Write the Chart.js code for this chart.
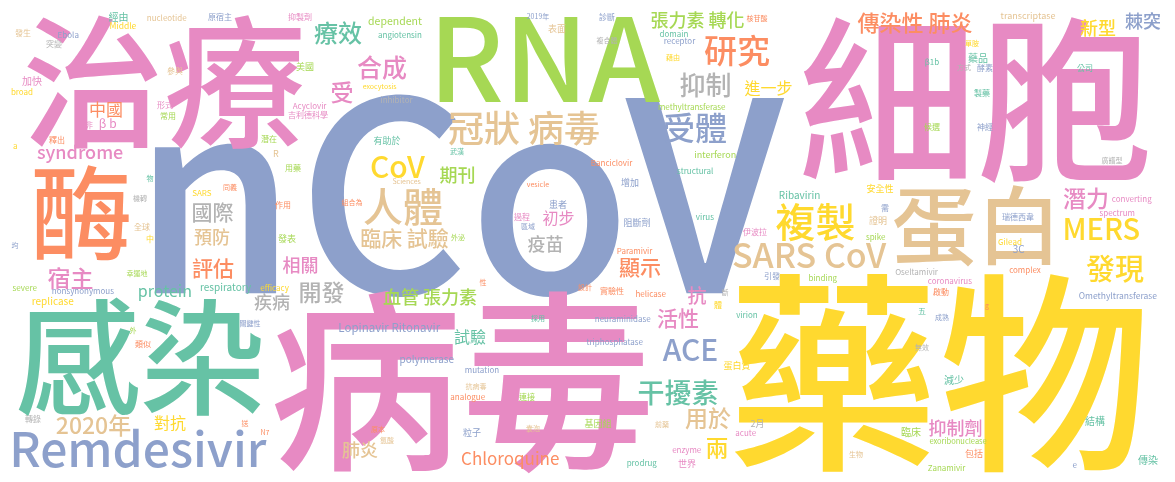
<!DOCTYPE html>
<html>
<head>
<meta charset="utf-8">
<script src="https://cdn.jsdelivr.net/npm/chart.js@4"></script>
<style>
html,body{margin:0;padding:0;background:#fff;}
#wrap{width:1175px;height:482px;position:relative;}
</style>
</head>
<body>
<div id="wrap"><canvas id="c"></canvas></div>
<script>
// Set2 colour groups
const PALETTE = ['#66c2a5','#fc8d62','#8da0cb','#e78ac3','#a6d854','#ffd92f','#e5c494','#b3b3b3'];
// 0 teal,1 orange,2 blue,3 pink,4 green,5 yellow,6 tan,7 gray

const words = [
'nCoV','藥物','病毒','細胞','治療','感染','RNA','酶','蛋白','Remdesivir',
'人體','複製','冠狀 病毒','研究','受體','SARS CoV','MERS','發現','干擾素','ACE',
'抑制','CoV','療效','合成','潛力','受','開發','宿主','2020年','用於',
'兩','傳染性 肺炎','國際','評估','顯示','活性','臨床 試驗','抗','張力素 轉化','新型',
'棘突','預防','相關','疾病','期刊','疫苗','血管 張力素','肺炎','Chloroquine','抑制劑',
'syndrome','protein','中國','進一步','初步','對抗','試驗','β b','Lopinavir Ritonavir','dependent',
'經由','nucleotide','原宿主','抑製劑','Middle','發生','Ebola','突變','參與','加快',
'broad','形式','常用','非','釋出','a','潛在','R','Acyclovir','吉利德科學',
'美國','angiotensin','2019年','表面','exocytosis','inhibitor','有助於','武漢','診斷','核苷酸',
'複合體','domain','receptor','藉由','methyltransferase','interferon','Banciclovir','transcriptase','單胺','藥品',
'β1b','方式','酵素','公司','製藥','候選','神經','廣譜型','物','用藥',
'同義','SARS','機轉','作用','全球','中','發表','均','幸運地','severe',
'nonsynonymous','respiratory','efficacy','replicase','Sciences','vesicle','組合為','患者','過程','區域',
'外泌','性','設計','採用','structural','增加','Ribavirin','安全性','virus','阻斷劑',
'證明','需','伊波拉','spike','Paramivir','引發','binding','實驗性','helicase','斷',
'體','virion','neuraminidase','converting','spectrum','瑞德西韋','Gilead','3C','Oseltamivir','complex',
'coronavirus','Omethyltransferase','啟動','g','五','成熟','外','類似','關鍵性','轉錄',
'送','N7','polymerase','mutation','抗病毒','analogue','連接','原本','氯酸','粒子',
'囊泡','基因組','triphosphatase','蛋白質','前藥','2月','acute','enzyme','生物','prodrug',
'世界','無效','減少','結構','臨床','exoribonuclease','包括','Zanamivir','e','傳染'
];

// word weights (drawn as font size)
const weights = [
265,212,193,178,142,125,115,102,85,48,
40,40,36,33,32,34,29,29,27,30,
26,30,24,25,23,23,23,23,23,23,
23,22,21,21,21,21,21,19,18,18,
18,18,18,18,18,18,18,18,17,18,
18,16,17,16,16,16,16,12,11.5,10.5,
10,8,8,8,8.5,8,8,8,8,10,
8,8,8,8,8,8,8,9,8,8,
9,8,7,9,7,8,9,7,8,7,
7,8,8,7,8,9,8,9,7,10,
8,7,8,8,8,8,8,7,7,8,
7,8,7,8,8,8,9,7,7,8,
8,10,8,10,7,7,7,9,8,7,
7,7,7,7,8,9,10,9,8,9,
9,8,8,8,8,8,8,8,8,7,
8,8,8,8,8,8,8,10,8,8,
8,8.5,8,7,8,7,7,8,7,8,
7,7,10,8,7,8,8,7,7,9,
7,9,8,9,7,9,8,8,7,8,
9,7,10,10,10,7.5,9,8,8,10
];

// layout positions of each word (word-cloud coordinates)
const layoutX = [
470,938,461,975,165,140,550,82,972,140,
403,815,524,737,695,810,1102,1115,678,690,
705,398,338,382,1085,342,322,70,93,708,
717,915,213,213,640,678,405,697,698,1098,
1143,212,300,272,457,545,430,360,510,955,
80,165,106,768,558,170,470,108,390,395,
118,167,220,300,123,23,68,54,175,32,
22,165,168,89,57,15,269,276,310,308,
305,400,538,557,380,397,387,457,607,757,
607,674,680,673,692,715,612,1028,972,978,
932,964,985,1085,982,932,985,1112,150,293,
230,202,140,283,142,150,287,15,137,25,
83,226,275,53,407,538,352,558,522,528,
458,483,585,538,695,630,800,880,705,637,
878,885,755,876,635,772,823,612,651,725,
718,747,623,1132,1117,1018,1010,1019,917,1025,
950,1118,941,987,922,942,133,143,250,33,
245,265,427,482,476,468,527,378,387,472,
533,598,615,737,662,757,746,687,856,642,
687,922,954,1095,911,958,974,947,1075,1148
];
const layoutY = [
196,373,382,100,82,357,59,213,226,448,
207,222,128,50,128,255,229,268,392,350,
85,167,33,67,198,92,292,278,425,418,
448,23,212,268,268,318,238,295,20,28,
21,237,265,302,175,244,297,450,459,428,
153,292,109,88,218,423,337,124,328,22,
16,17,17,17,25,33,34,44,71,81,
91,105,116,125,140,146,139,153,106,115,
66,35,16,28,87,99,140,151,17,18,
40,33,41,57,107,154,162,16,43,58,
62,67,68,68,93,127,127,160,178,168,
187,193,198,205,226,239,238,245,273,288,
292,288,288,302,181,184,202,204,217,226,
237,282,287,318,170,182,194,188,216,222,
220,208,232,237,250,276,278,291,293,292,
305,314,318,199,213,217,241,249,271,270,
280,296,292,307,311,317,330,344,323,419,
423,432,360,369,386,397,397,429,440,432,
428,423,342,365,424,424,432,451,454,463,
463,347,380,421,432,440,453,467,465,460
];
// colour group of each word (index into PALETTE)
const groups = [
2,5,3,3,3,0,4,1,6,2,
6,5,6,1,2,6,5,5,0,2,
7,5,0,3,3,3,7,3,6,6,
5,1,7,1,1,3,6,3,4,5,
2,6,3,7,4,7,4,6,1,3,
3,0,1,5,3,5,0,3,2,4,
0,6,2,3,5,6,2,7,6,3,
5,3,4,3,1,5,4,6,3,3,
4,0,2,6,5,7,0,0,2,1,
7,0,2,5,4,4,1,6,5,0,
0,7,2,0,0,4,2,7,0,4,
1,5,7,1,6,5,4,2,4,4,
2,0,5,5,6,1,1,2,3,2,
4,1,1,0,0,2,0,5,0,2,
6,2,3,4,1,2,4,1,1,7,
5,0,2,3,3,2,5,2,7,1,
3,2,1,1,0,2,4,1,2,7,
1,1,2,2,6,1,4,1,6,2,
6,4,2,5,6,7,3,3,6,0,
3,7,0,0,4,4,1,4,2,0
];

const FONT = '"Noto Sans CJK TC","Noto Sans",sans-serif';

const wordPlugin = {
  id: 'wordDraw',
  afterDatasetsDraw(chart) {
    const ctx = chart.ctx;
    const meta = chart.getDatasetMeta(0);
    meta.data.forEach((pt, i) => {
      const txt = words[i];
      const size = weights[i];
      ctx.save();
      ctx.font = (size >= 18 ? '500 ' : '400 ') + size + 'px ' + FONT;
      ctx.fillStyle = PALETTE[groups[i]];
      ctx.textAlign = 'left';
      ctx.textBaseline = 'alphabetic';
      const m = ctx.measureText(txt);
      const w = m.actualBoundingBoxLeft + m.actualBoundingBoxRight;
      const h = m.actualBoundingBoxAscent + m.actualBoundingBoxDescent;
      const dx = pt.x - w / 2 + m.actualBoundingBoxLeft;
      const dy = pt.y - h / 2 + m.actualBoundingBoxAscent;
      ctx.fillText(txt, dx, dy);
      ctx.restore();
    });
  }
};

const points = words.map((w, i) => ({ x: layoutX[i], y: layoutY[i] }));

new Chart(document.getElementById('c'), {
  type: 'scatter',
  data: {
    labels: words,
    datasets: [{ label: 'words', data: points, pointRadius: 0, pointHoverRadius: 0 }]
  },
  options: {
    responsive: true,
    maintainAspectRatio: false,
    animation: false,
    layout: { padding: 0 },
    plugins: { legend: { display: false }, tooltip: { enabled: false } },
    scales: {
      x: { type: 'linear', min: 0, max: 1175, display: false },
      y: { type: 'linear', min: 0, max: 482, reverse: true, display: false }
    }
  },
  plugins: [wordPlugin]
});
</script>
</body>
</html>
